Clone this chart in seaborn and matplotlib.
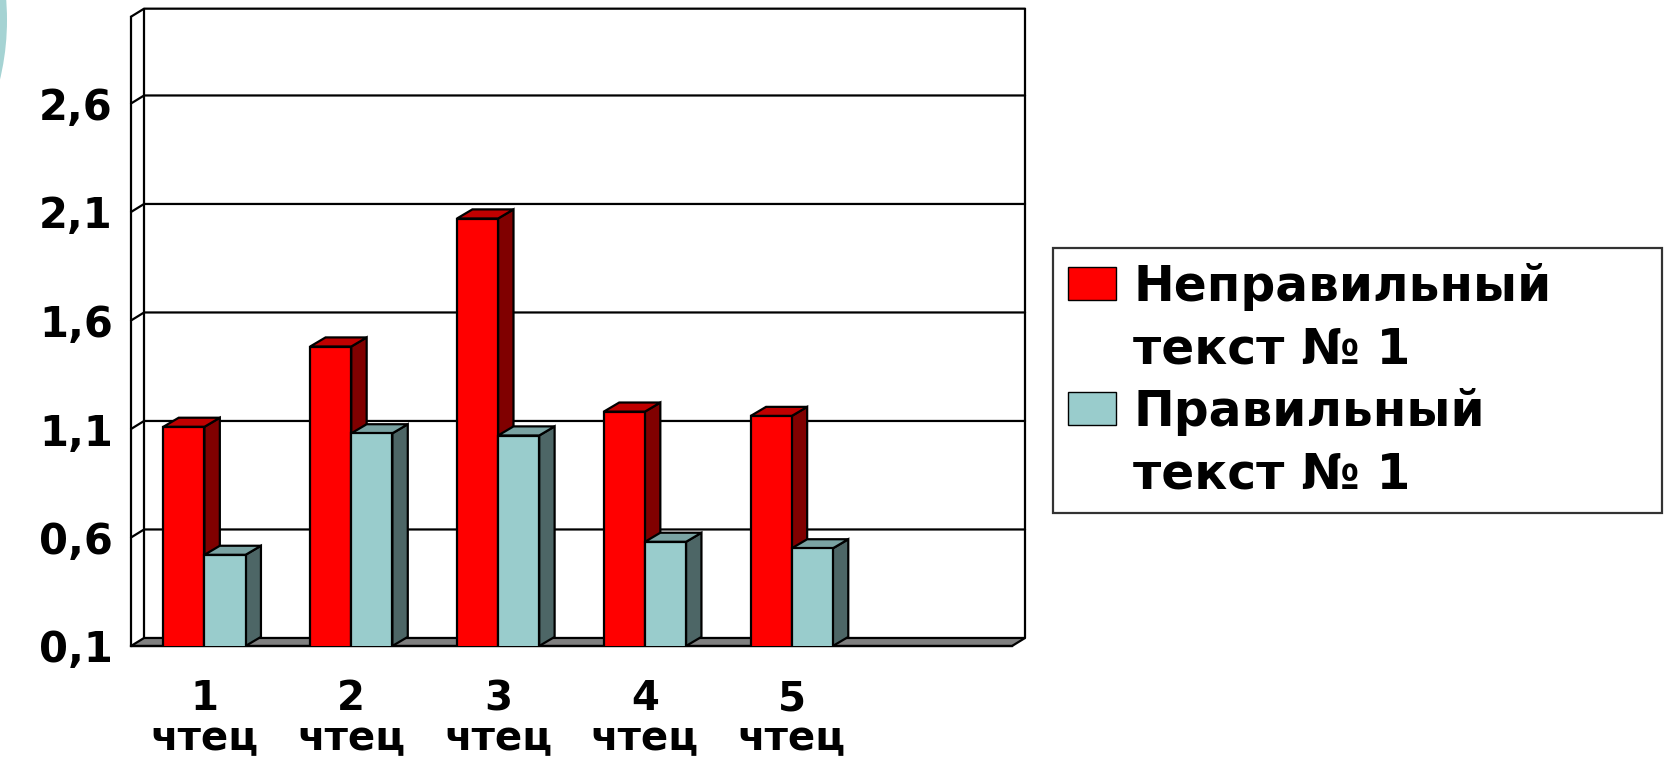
import matplotlib
matplotlib.use("Agg")
import matplotlib.pyplot as plt
from matplotlib.patches import Polygon, Patch, Ellipse
import seaborn as sns
import pandas as pd

readers = ["1\nчтец", "2\nчтец", "3\nчтец", "4\nчтец", "5\nчтец"]
slots = readers + [""]
series = ["Неправильный\nтекст № 1", "Правильный\nтекст № 1"]
wrong_text = [1.11, 1.48, 2.07, 1.18, 1.16]
right_text = [0.52, 1.08, 1.07, 0.58, 0.55]
y_ticks = [0.1, 0.6, 1.1, 1.6, 2.1, 2.6]
y_top = 3.0

front = ["#FF0000", "#99CCCC"]
side = ["#800000", "#4D6666"]
top = ["#C00000", "#7AA3A3"]

df = pd.DataFrame({
    "reader": readers * 2,
    "series": [series[0]] * 5 + [series[1]] * 5,
    "value": wrong_text + right_text,
})

sns.set_style("white")
plt.rcParams["font.family"] = ["DejaVu Sans"]
plt.rcParams["font.weight"] = "bold"
plt.rcParams["text.color"] = "black"
plt.rcParams["xtick.color"] = "black"
plt.rcParams["ytick.color"] = "black"

fig = plt.figure(figsize=(16.7, 7.58), dpi=100)
ax = fig.add_axes([131 / 1670, 1 - 646 / 758, (1012 - 131) / 1670, (646 - 16.7) / 758])

sns.barplot(data=df, x="reader", y="value", hue="series", order=slots,
            hue_order=series, palette=front, saturation=1, width=0.56, gap=0,
            edgecolor="black", linewidth=1.6, legend=False, ax=ax)

ax.set_xlim(-0.5, 5.5)
ax.set_ylim(y_ticks[0], y_top)
lw = 1.6
base = y_ticks[0]

# depth of the back wall and of the bars (data units)
dx, dy = 0.089, 0.037
bdx, bdy = 0.105, 0.042

bars = [p for p in ax.patches if p.get_height() == p.get_height() and p.get_width() > 0]
for p in bars:
    x0, w = p.get_x(), p.get_width()
    h = p.get_y() + p.get_height()
    k = 0 if p.get_facecolor()[1] < 0.5 else 1
    p.set_zorder(4)
    ax.add_patch(Polygon([(x0 + w, base), (x0 + w, h), (x0 + w + bdx, h + bdy), (x0 + w + bdx, base + bdy)],
                         closed=True, facecolor=side[k], edgecolor="black", lw=lw, zorder=3))
    ax.add_patch(Polygon([(x0, h), (x0 + w, h), (x0 + w + bdx, h + bdy), (x0 + bdx, h + bdy)],
                         closed=True, facecolor=top[k], edgecolor="black", lw=lw, zorder=3))

# floor
ax.add_patch(Polygon([(-0.5, base), (5.5, base), (5.5 + dx, base + dy), (-0.5 + dx, base + dy)],
                     closed=True, facecolor="#808080", edgecolor="black", lw=lw, zorder=2, clip_on=False))

# back wall grid
for y in y_ticks[1:] + [y_top]:
    ax.plot([-0.5, -0.5 + dx, 5.5 + dx], [y, y + dy, y + dy], color="black", lw=lw, zorder=1, clip_on=False)
for xw in [-0.5 + dx, 5.5 + dx]:
    ax.plot([xw, xw], [base + dy, y_top + dy], color="black", lw=lw, zorder=1, clip_on=False)

sns.despine(ax=ax, top=True, right=True)
for s in ["left", "bottom"]:
    ax.spines[s].set_linewidth(lw)
    ax.spines[s].set_color("black")

ax.set_yticks(y_ticks)
ax.set_yticklabels([f"{v:.1f}".replace(".", ",") for v in y_ticks])
ax.set_xticks(range(len(slots)))
ax.set_xticklabels(slots)
ax.set_xticks([i - 0.5 for i in range(len(slots) + 1)], minor=True)
ax.tick_params(axis="x", which="major", length=0, pad=24, labelsize=29)
ax.tick_params(axis="x", which="minor", length=8, width=lw, direction="out", color="black")
ax.tick_params(axis="y", length=10, width=lw, direction="out", color="black", pad=3, labelsize=30)
for t in ax.get_xticklabels():
    t.set_linespacing(1.0)
ax.set_xlabel("")
ax.set_ylabel("")

# legend: one row per text line, swatch beside the first line
blank = Patch(facecolor="none", edgecolor="none")
handles = [Patch(facecolor=front[0], edgecolor="black"), blank,
           Patch(facecolor=front[1], edgecolor="black"), blank]
labels = []
for s in series:
    labels += s.split("\n")
leg = fig.legend(handles, labels, loc="upper left",
                 bbox_to_anchor=(1053 / 1670, 1 - 248 / 758, (1662 - 1053) / 1670, 0.0),
                 mode="expand", fontsize=35, frameon=True, fancybox=False,
                 edgecolor="black", handlelength=1.0, handleheight=0.68,
                 handletextpad=0.35, labelspacing=0.3, borderpad=0.3, borderaxespad=0)
leg.get_frame().set_linewidth(lw)

fig.add_artist(Ellipse((-250 / 1670, 1 - 20 / 758), 514 / 1670, 514 / 758,
                       transform=fig.transFigure, facecolor="#A5D3D3", edgecolor="none"))

fig.savefig("out.png", dpi=100)
